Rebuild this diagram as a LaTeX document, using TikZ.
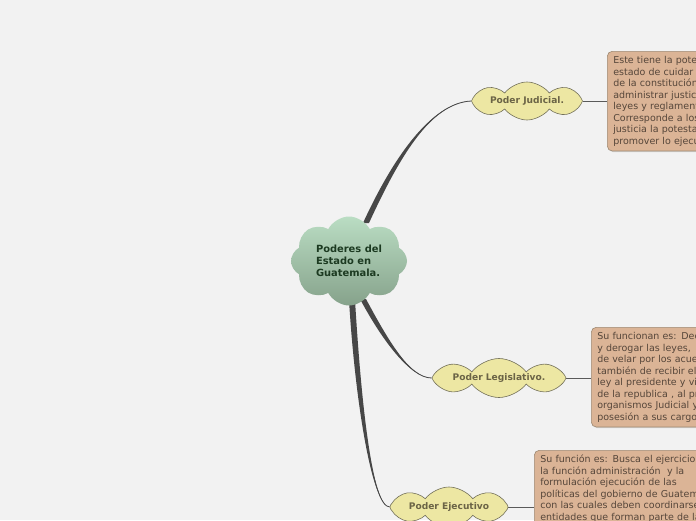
\documentclass[tikz,border=0pt]{standalone}
\usepackage{fontspec}
\setmainfont{DejaVu Sans}
\usetikzlibrary{shapes.symbols,calc,shadows}
\definecolor{bgcol}{HTML}{F2F2F2}
\definecolor{boxfill}{HTML}{DBB496}
\definecolor{boxline}{HTML}{9E8A73}
\definecolor{boxtext}{HTML}{56463A}
\definecolor{ylwfill}{HTML}{EDE7A3}
\definecolor{ylwline}{HTML}{73705A}
\definecolor{ylwtext}{HTML}{6B6446}
\definecolor{grtop}{HTML}{BADDC3}
\definecolor{grbot}{HTML}{86A28B}
\definecolor{grtext}{HTML}{1C3A21}
\definecolor{conncol}{HTML}{474747}
\definecolor{thincol}{HTML}{5A5A5A}
\pgfdeclarelayer{back}
\pgfdeclarelayer{conn}
\pgfsetlayers{back,conn,main}
\newcommand\mytaper[4]{%
  \fill[conncol] ($#1+(-3,0)$) .. controls ($#2+(-3,0)$) and #3 .. #4
     .. controls #3 and ($#2+(3,0)$) .. ($#1+(3,0)$) -- cycle;
  \draw[conncol,line width=0.8pt] #1 .. controls #2 and #3 .. #4;}
\begin{document}
\begin{tikzpicture}[x=1pt,y=-1pt,
  rootcloud/.style={cloud, cloud puffs=8, cloud puff arc=125, cloud ignores aspect,
    minimum width=116pt, minimum height=89pt, inner sep=0pt,
    top color=grtop, bottom color=grbot, draw=none,
    font=\bfseries\fontsize{9.9}{12}\selectfont, text=grtext, align=left},
  branch/.style={cloud, cloud puffs=8, cloud puff arc=105, cloud ignores aspect,
    inner sep=0pt, fill=ylwfill, draw=ylwline, line width=0.6pt,
    font=\bfseries\fontsize{9.1}{11}\selectfont, text=ylwtext},
  notebox/.style={rectangle, rounded corners=5pt, fill=boxfill, draw=boxline, line width=0.6pt,
    align=left, text width=190pt, inner xsep=6pt, inner ysep=5pt,
    font=\fontsize{9.5}{11.5}\selectfont, text=boxtext,
    drop shadow={shadow xshift=1pt, shadow yshift=-1.2pt, opacity=0.25}},
  thinlink/.style={draw=thincol, line width=0.7pt}]
\begin{pgfonlayer}{back}
\fill[bgcol] (0,0) rectangle (696,520);
\end{pgfonlayer}
\useasboundingbox (0,0) rectangle (696,520);

\node[rootcloud] (root) at (349,261) {Poderes del\\Estado en\\Guatemala.};
\node[branch, minimum width=111pt, minimum height=38pt] (jud) at (527,101) {Poder Judicial.};
\node[branch, minimum width=134pt, minimum height=39pt] (leg) at (499,378) {Poder Legislativo.};
\node[branch, minimum width=118pt, minimum height=40pt] (eje) at (449,507) {Poder Ejecutivo};

\node[notebox, anchor=north west] (jbox) at (607,51) {Este tiene la pote\\estado de cuidar\\de la constitución\\administrar justic\\leyes y reglament\\Corresponde a los\\justicia la potesta\\promover lo ejecu};
\node[notebox, anchor=north west] (lbox) at (591,327) {Su funcionan es: Dec\\y derogar las leyes,\\de velar por los acue\\también de recibir el\\ley al presidente y vi\\de la republica , al pr\\organismos Judicial y\\posesión a sus cargo};
\node[notebox, anchor=north west] (ebox) at (534,450) {Su función es: Busca el ejercicio\\la función administración \ y la\\formulación ejecución de las\\políticas del gobierno de Guatem\\con las cuales deben coordinarse\\entidades que forman parte de la};

\begin{pgfonlayer}{conn}
\coordinate (js) at ($(root.center)+(17,-38)$);
\coordinate (ls) at ($(root.center)+(14,38)$);
\coordinate (es) at ($(root.center)+(3,39)$);
\mytaper{(js)}{(395,160)}{(430,103)}{(jud.west)}
\mytaper{(ls)}{(385,340)}{(410,378)}{(leg.west)}
\mytaper{(es)}{(358,400)}{(372,507)}{(eje.west)}
\draw[thinlink] (jud.east) -- (jud.east -| jbox.west);
\draw[thinlink] (leg.east) -- (leg.east -| lbox.west);
\draw[thinlink] (eje.east) -- (eje.east -| ebox.west);
\end{pgfonlayer}
\end{tikzpicture}
\end{document}
